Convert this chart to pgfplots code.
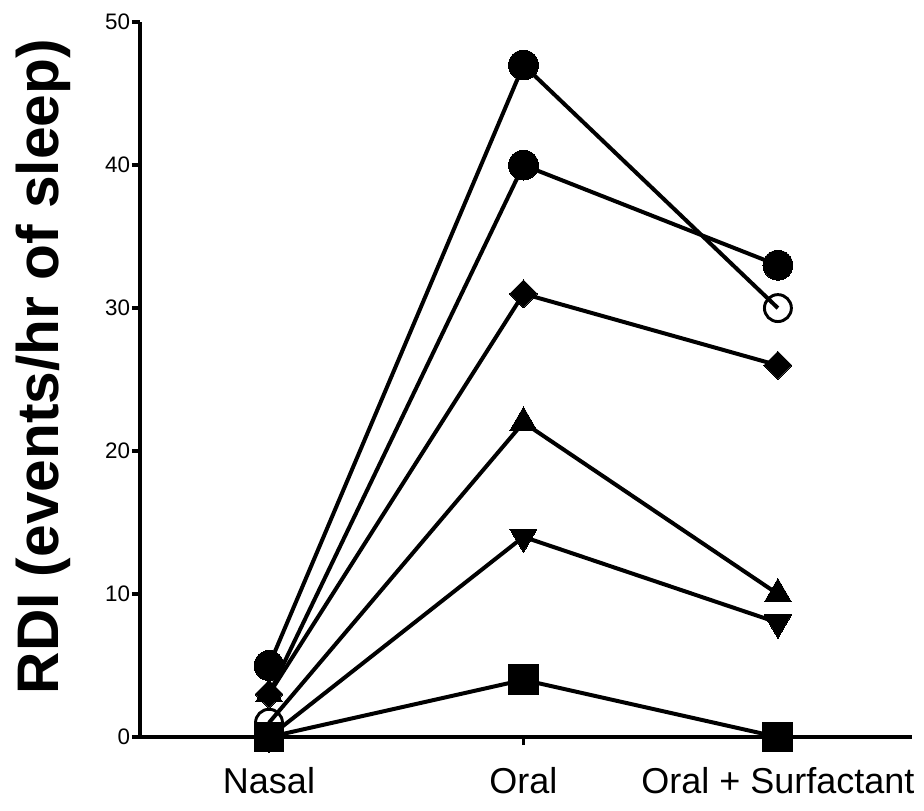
\documentclass[border=0pt]{standalone}
\usepackage{fontspec}
\setmainfont{Liberation Sans}
\usepackage{pgfplots}
\pgfplotsset{compat=1.18}

\begin{document}
\begin{tikzpicture}
\begin{axis}[
  scale only axis, width=289.5pt, height=268.1pt,
  xmin=-0.507, xmax=2.527, ymin=0, ymax=50,
  axis lines=left, axis line style={-, line width=1.3pt},
  xtick={0,1,2}, xticklabels={Nasal, Oral, Oral + Surfactant},
  ytick={0,10,...,50},
  tick align=outside, major tick length=3pt,
  tick style={line width=1.3pt, black},
  /pgf/number format/assume math mode=true,
  yticklabel style={font=\fontsize{8.4}{10}\selectfont, inner sep=0.5pt},
  xticklabel style={font=\fontsize{13.5}{16}\selectfont, yshift=-5pt},
  ylabel={RDI (events/hr of sleep)},
  ylabel style={at={(axis description cs:-0.1256,0.518)}, anchor=center,
    font=\bfseries\fontsize{22}{26}\selectfont},
  every axis plot/.append style={black, line width=1.5pt},
  clip=false,
]
% subject lines (Nasal, Oral, Oral + Surfactant)
\addplot[no marks] coordinates {(0,5) (1,47) (2,30)};
\addplot[no marks] coordinates {(0,3) (1,40) (2,33)};
\addplot[no marks] coordinates {(0,3) (1,31) (2,26)};
\addplot[no marks] coordinates {(0,1) (1,22) (2,10)};
\addplot[no marks] coordinates {(0,0) (1,14) (2,8)};
\addplot[no marks] coordinates {(0,0) (1,4) (2,0)};
% symbols
\addplot[only marks, mark=o, mark size=5.05pt, mark options={fill=white, line width=1.1pt}]
  coordinates {(0,1) (2,30)};
\addplot[only marks, mark=square*, mark size=3.7pt, mark options={rotate=45, line width=0pt}]
  coordinates {(0,3) (1,31) (2,26)};
\addplot[only marks, mark=triangle*, mark size=5.85pt, mark options={line width=0pt}]
  coordinates {(0,3) (1,22) (2,10)};
\addplot[only marks, mark=triangle*, mark size=5.85pt, mark options={rotate=180, line width=0pt}]
  coordinates {(0,0) (1,14) (2,8)};
\addplot[only marks, mark=*, mark size=5.6pt, mark options={line width=0pt}]
  coordinates {(0,5) (1,47) (1,40) (2,33)};
\addplot[only marks, mark=square*, mark size=5.6pt, mark options={line width=0pt}]
  coordinates {(0,0) (1,4) (2,0)};
\end{axis}
\pgfresetboundingbox
\path (-52.5pt,-27.4pt) rectangle (294pt,276.4pt);
\end{tikzpicture}
\end{document}
